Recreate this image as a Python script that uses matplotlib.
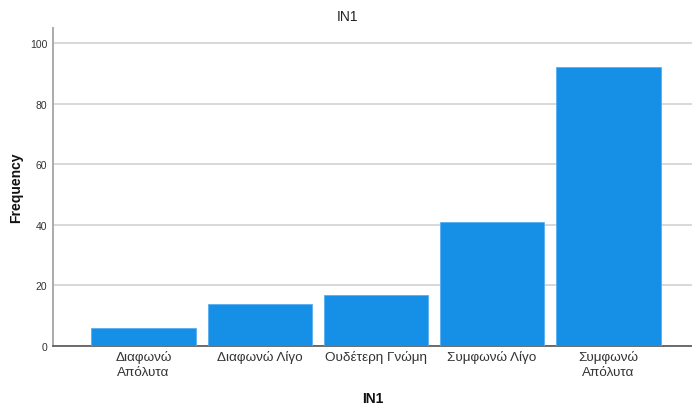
import numpy as np
import matplotlib.pyplot as plt

plt.rcParams['font.family'] = ['Liberation Sans', 'DejaVu Sans']

# data
categories = ['Διαφωνώ\nΑπόλυτα', 'Διαφωνώ Λίγο', 'Ουδέτερη Γνώμη', 'Συμφωνώ Λίγο', 'Συμφωνώ\nΑπόλυτα']
frequency = [6, 14, 17, 41, 92]
y_ticks = [0, 20, 40, 60, 80, 100]

fig = plt.figure(figsize=(6.92, 4.10), dpi=100)
ax = fig.add_axes([53 / 692, 1 - 347 / 410, 1 - 53 / 692, (347 - 29) / 410])

x = np.arange(len(categories))
ax.bar(x, frequency, width=0.9, color='#1590e6', edgecolor='#5aaef0', linewidth=0.6, zorder=3)

ax.set_xlim(-0.78, 4.72)
ax.set_ylim(0, 105)
ax.set_yticks(y_ticks)
ax.set_yticklabels([str(v) for v in y_ticks], fontsize=7.5, color='#333333')
ax.set_xticks(x)
ax.set_xticklabels(categories, fontsize=9.7, color='#333333', linespacing=1.35)
ax.tick_params(axis='x', length=0, pad=3)
ax.tick_params(axis='y', length=0, pad=4)

ax.yaxis.grid(True, color='#d6d6d6', linewidth=1.3, zorder=0)
ax.set_axisbelow(True)

for side in ['top', 'right']:
    ax.spines[side].set_visible(False)
ax.spines['left'].set_color('#aaaaaa')
ax.spines['left'].set_linewidth(1.4)
ax.spines['bottom'].set_color('#555555')
ax.spines['bottom'].set_linewidth(1.2)

fig.text(16 / 692, 1 - 188 / 410, 'Frequency', fontsize=10, fontweight='bold',
         rotation=90, ha='center', va='center', color='#111111')
fig.text(373 / 692, 1 - 399 / 410, 'IN1', fontsize=10, fontweight='bold',
         ha='center', va='center', color='#111111')
fig.text(348 / 692, 1 - 17 / 410, 'IN1', fontsize=10, ha='center', va='center', color='#222222')

fig.savefig('out.png', dpi=100)
